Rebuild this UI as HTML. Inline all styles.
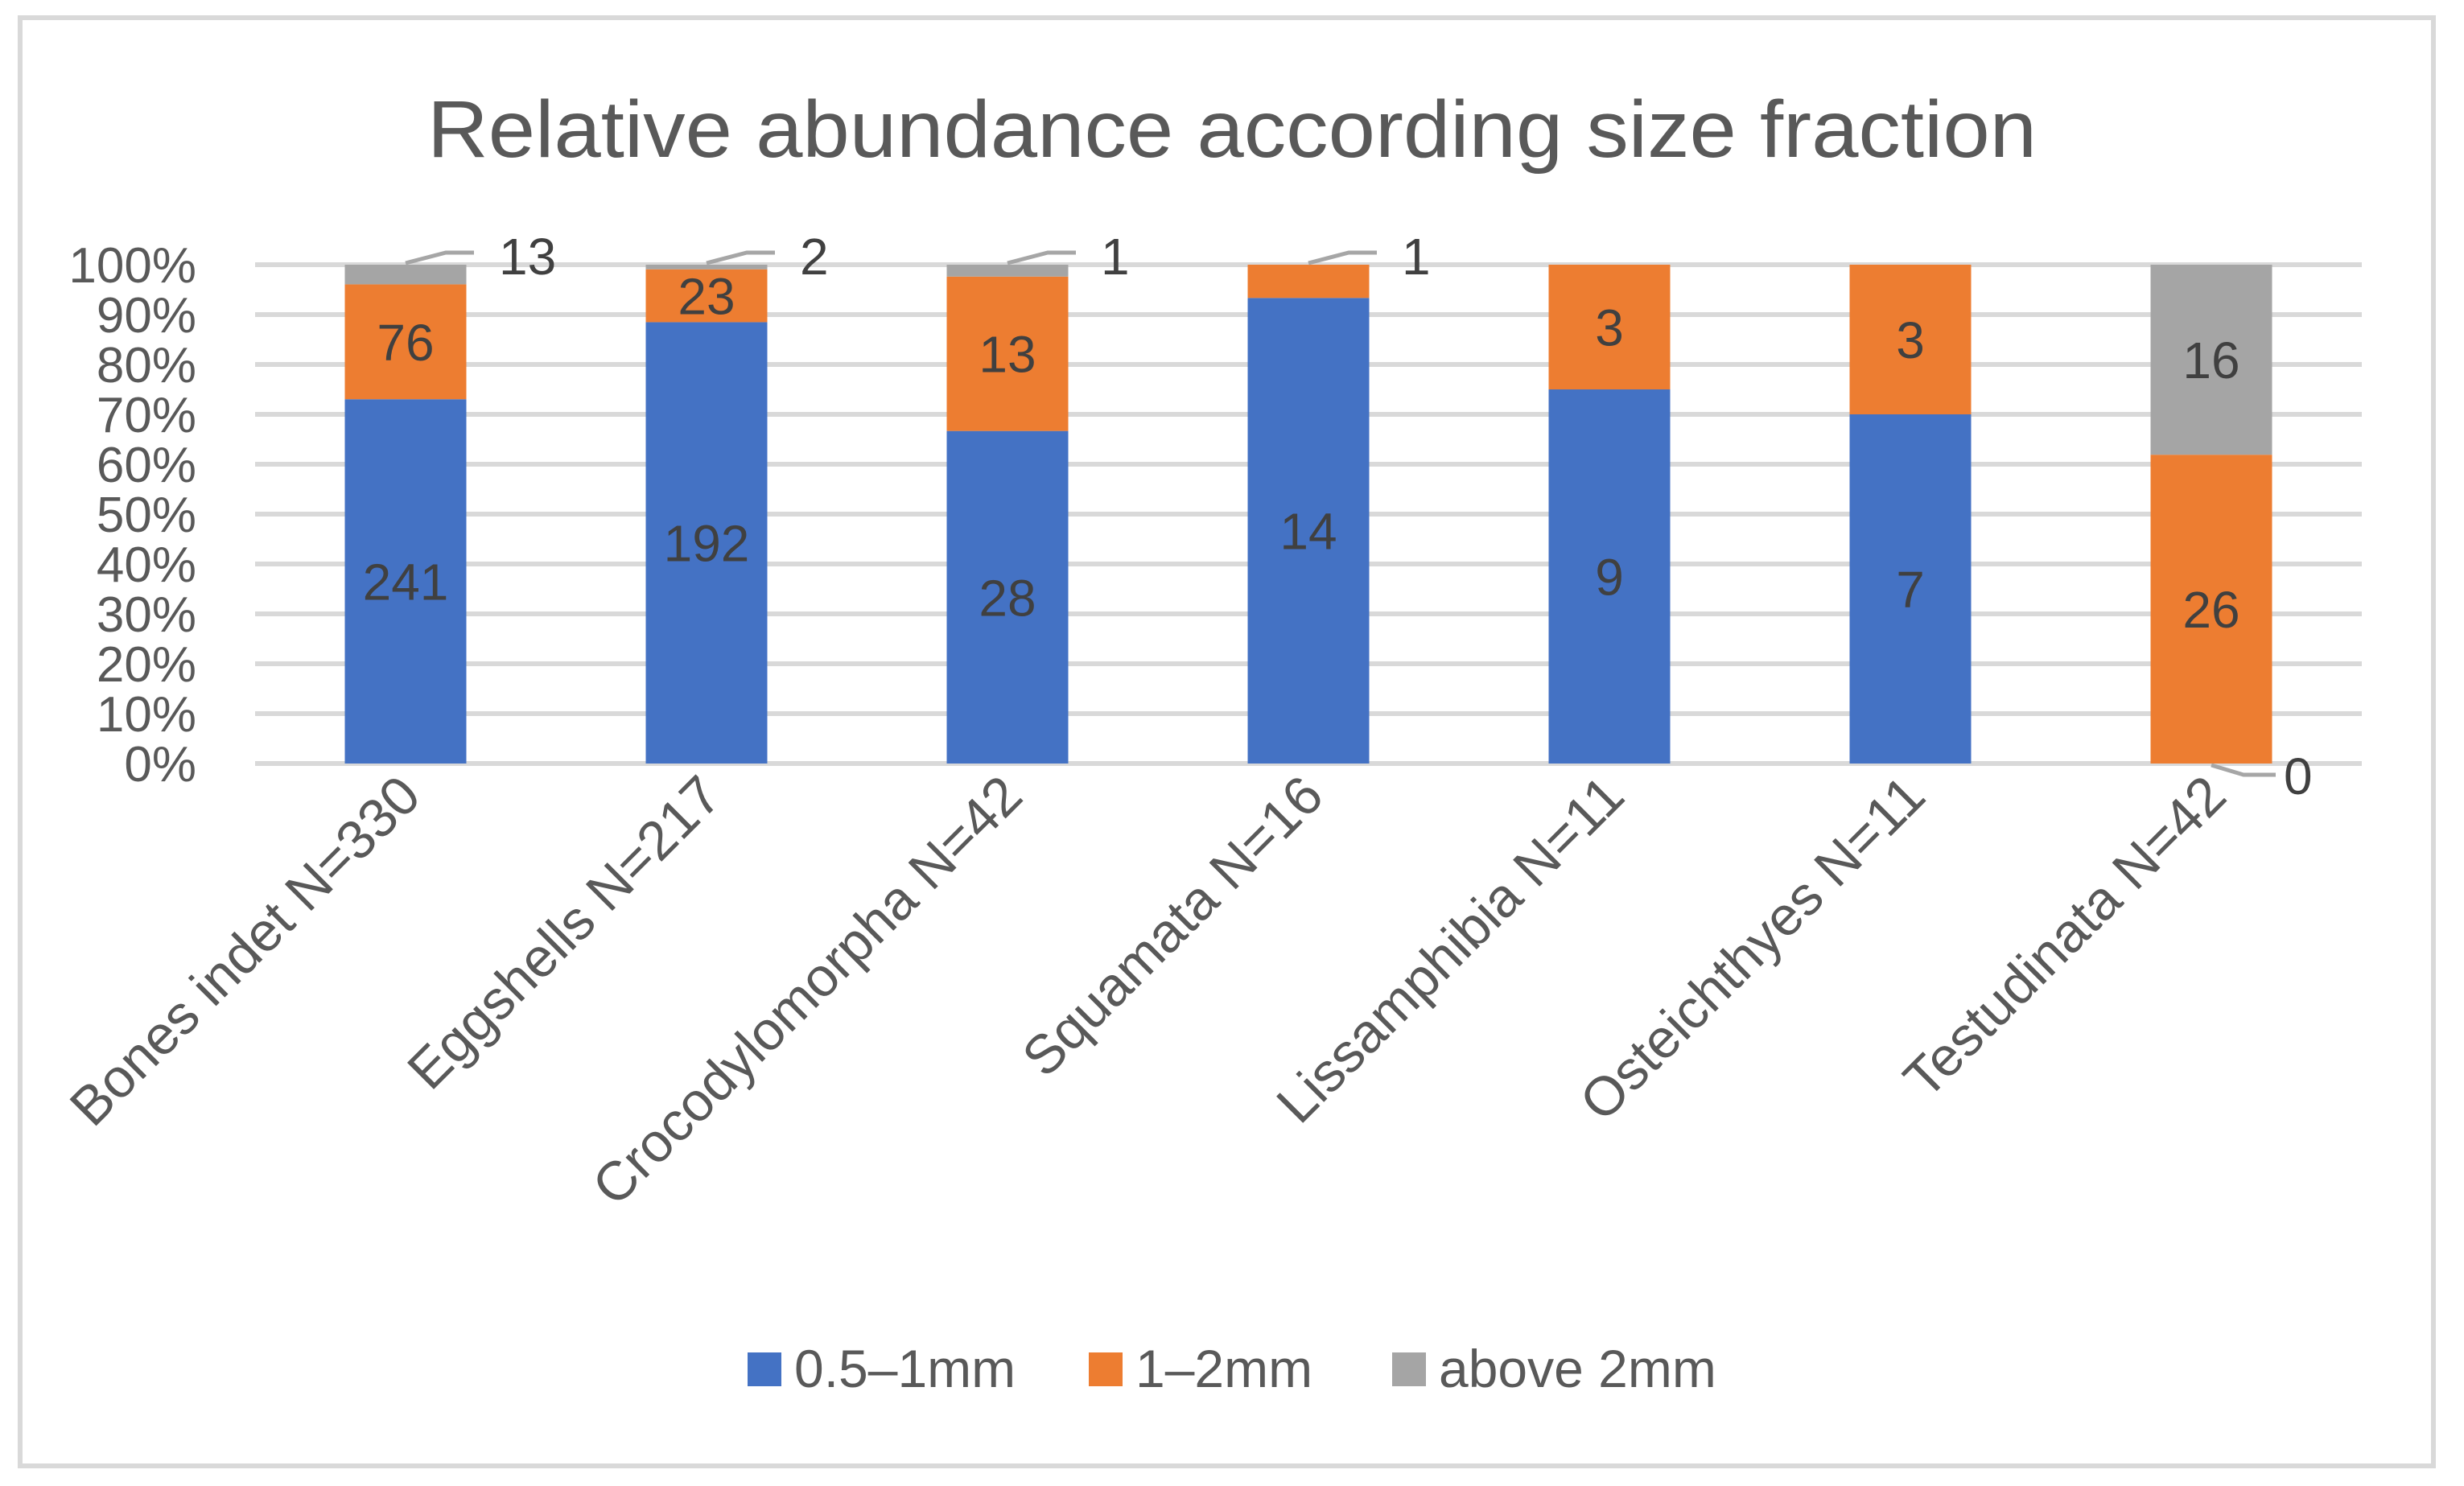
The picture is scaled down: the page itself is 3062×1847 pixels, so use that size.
<!DOCTYPE html>
<html><head><meta charset="utf-8"><style>
html,body{margin:0;padding:0;background:#fff;}
svg{display:block;font-family:"Liberation Sans",sans-serif;}
</style></head><body>
<svg id="chart" width="3062" height="1847" viewBox="0 0 3062 1847">
<rect x="25" y="22" width="2999" height="1800" fill="#fff" stroke="#d9d9d9" stroke-width="6"/>
<text x="1531" y="195" text-anchor="middle" font-size="100" fill="#595959" textLength="2000" lengthAdjust="spacingAndGlyphs">Relative abundance according size fraction</text>
<g id="grid"></g>
<g id="yaxis"></g>
<g id="bars"></g>
<g id="xaxis"></g>
<g id="legend"></g>
</svg>
<script>
const categories = ["Bones indet N=330","Eggshells N=217","Crocodylomorpha N=42","Squamata N=16","Lissamphibia N=11","Osteichthyes N=11","Testudinata N=42"];
const fine = [241,192,28,14,9,7,0];
const medium = [76,23,13,1,3,3,26];
const coarse = [13,2,1,0,0,0,16];
const outsideLabels = ["13","2","1","1",null,null,"0"];
const yTicks = ["0%","10%","20%","30%","40%","50%","60%","70%","80%","90%","100%"];
const seriesNames = ["0.5–1mm","1–2mm","above 2mm"];
const colors = ["#4472c4","#ed7d31","#a5a5a5"];

const NS="http://www.w3.org/2000/svg";
const plotL=317, plotR=2935, plotT=329, plotB=949;
const band=(plotR-plotL)/categories.length, barW=151;
const yS=p=>plotB-p*(plotB-plotT);
const xC=i=>plotL+band*(i+0.5);
function mk(tag,attrs,parent){const e=document.createElementNS(NS,tag);for(const k in attrs)e.setAttribute(k,attrs[k]);parent.appendChild(e);return e;}
const grid=document.getElementById('grid'),yax=document.getElementById('yaxis'),bars=document.getElementById('bars'),xax=document.getElementById('xaxis'),leg=document.getElementById('legend');

yTicks.forEach((t,i)=>{
  const p=i/(yTicks.length-1);
  const l=mk('line',{x1:plotL,x2:plotR,y1:yS(p),y2:yS(p),stroke:'#d9d9d9','stroke-width':6},grid);
  
  
  const tx=mk('text',{x:244,y:yS(p)+22,'text-anchor':'end','font-size':62,fill:'#595959'},yax);
  tx.textContent=t;
  
  
});

const series=[fine,medium,coarse];
categories.forEach((c,i)=>{
  const tot=fine[i]+medium[i]+coarse[i];
  let acc=0;
  series.forEach((s,k)=>{
    const v=s[i]; if(v<=0) return;
    const y0=yS(acc/tot), y1=yS((acc+v)/tot);
    const r=mk('rect',{x:xC(i)-barW/2,y:y1,width:barW,height:y0-y1,fill:colors[k]},bars);
    
    
    const h=y0-y1;
    if(h>50){
      const t=mk('text',{x:xC(i),y:(y0+y1)/2+23,'text-anchor':'middle','font-size':64,fill:'#404040'},bars);
      t.textContent=v;
      
      
    }
    acc+=v;
  });
  const ol=outsideLabels[i];
  if(ol!==null){
    const cx=xC(i);
    let d,tx,ty;
    if(i===6){d=`M${cx} ${plotB+2} L${cx+40} ${plotB+14} L${cx+80} ${plotB+14}`;tx=cx+90;ty=plotB+38;}
    else {d=`M${cx} ${plotT-2} L${cx+50} ${plotT-15} L${cx+85} ${plotT-15}`;tx=cx+116;ty=plotT+12;}
    const p=mk('path',{d:d,fill:'none',stroke:'#a6a6a6','stroke-width':5},bars);
    
    
    const t=mk('text',{x:tx,y:ty,'font-size':64,fill:'#404040'},bars);
    t.textContent=ol;
    
    
  }
  const lab=mk('text',{x:0,y:0,'text-anchor':'end','font-size':68,fill:'#595959',transform:`translate(${xC(i)+22},${plotB+44}) rotate(-45)`},xax);
  lab.textContent=c;
  
  
});

const legX=[929,1353,1730];
seriesNames.forEach((n,k)=>{
  const r=mk('rect',{x:legX[k],y:1681,width:42,height:42,fill:colors[k]},leg);
  
  
  const t=mk('text',{x:legX[k]+58,y:1724,'font-size':66,fill:'#595959'},leg);
  t.textContent=n;
  
  
});
</script>
</body></html>
